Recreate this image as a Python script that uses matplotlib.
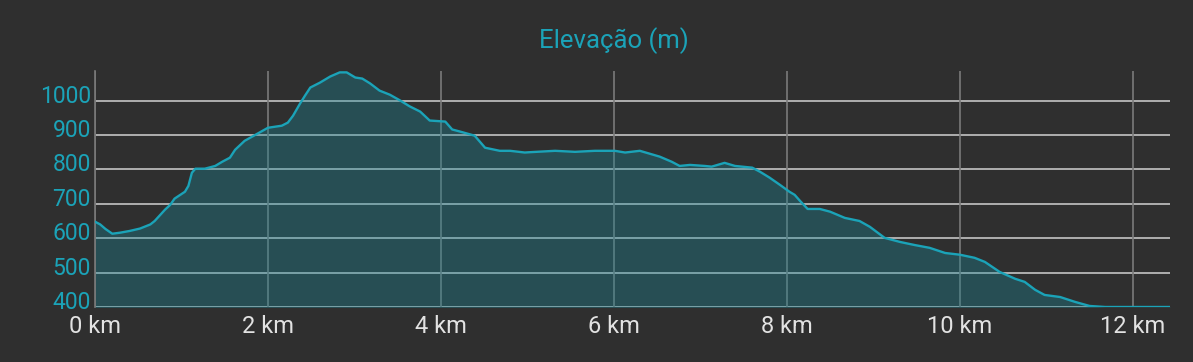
import matplotlib
matplotlib.use("Agg")
import matplotlib.pyplot as plt
from matplotlib.transforms import ScaledTranslation

# distance (km) and elevation (m) read from the profile
dist_km = [0.00, 0.06, 0.12, 0.20, 0.29, 0.40, 0.52, 0.64, 0.69, 0.81, 0.87,
           0.92, 1.04, 1.08, 1.12, 1.16, 1.27, 1.39, 1.47, 1.56, 1.62, 1.73,
           1.88, 2.00, 2.16, 2.23, 2.29, 2.37, 2.43, 2.49, 2.60, 2.72, 2.83,
           2.91, 3.01, 3.09, 3.18, 3.29, 3.41, 3.53, 3.64, 3.76, 3.87, 4.05,
           4.13, 4.22, 4.39, 4.51, 4.68, 4.80, 4.97, 5.03, 5.32, 5.55, 5.78,
           6.01, 6.13, 6.30, 6.53, 6.67, 6.76, 6.88, 7.05, 7.13, 7.28, 7.40,
           7.60, 7.69, 7.80, 7.92, 8.03, 8.09, 8.15, 8.24, 8.38, 8.50, 8.67,
           8.84, 8.96, 9.13, 9.31, 9.48, 9.65, 9.83, 10.00, 10.17, 10.29,
           10.46, 10.64, 10.75, 10.87, 10.98, 11.16, 11.33, 11.50, 11.68,
           12.43]
elev_m = [648, 640, 627, 613, 616, 621, 628, 640, 650, 683, 697, 715, 735,
          752, 790, 802, 802, 810, 822, 834, 857, 883, 904, 921, 927, 936,
          956, 991, 1015, 1038, 1052, 1070, 1082, 1082, 1067, 1064, 1050,
          1029, 1017, 1000, 983, 968, 942, 939, 916, 910, 898, 863, 854, 854,
          849, 850, 854, 851, 854, 854, 849, 854, 837, 822, 810, 813, 810,
          808, 819, 810, 805, 793, 776, 755, 735, 726, 709, 685, 685, 677,
          659, 650, 633, 601, 589, 580, 572, 557, 552, 543, 531, 502, 482,
          473, 450, 435, 429, 415, 403, 400, 400]

x_ticks = [0, 2, 4, 6, 8, 10, 12]
y_ticks = [400, 500, 600, 700, 800, 900, 1000]

bg = "#2f2f2f"
teal = "#1ba3b8"

plt.rcParams["font.family"] = ["Roboto", "DejaVu Sans"]

fig = plt.figure(figsize=(11.93, 3.62), dpi=100, facecolor=bg)
ax = fig.add_axes([95 / 1193, 55 / 362, 1075 / 1193, 236 / 362])
ax.set_facecolor(bg)

for y in y_ticks:
    ax.axhline(y, color="#c4c4c4", lw=1.2, zorder=1)
for x in x_ticks:
    ax.axvline(x, color="#7a7a7a", lw=1.2, zorder=1)

ax.fill_between(dist_km, elev_m, 390, color="#1a8a9a", alpha=0.35, lw=0, zorder=2)
ax.plot(dist_km, elev_m, color=teal, lw=1.7, zorder=3)

ax.set_xlim(0, 12.43)
ax.set_ylim(400, 1086)
ax.set_xticks(x_ticks)
ax.set_xticklabels([f"{v} km" for v in x_ticks])
ax.set_yticks(y_ticks)
ax.tick_params(axis="x", labelcolor="#e2e2e2", labelsize=17, length=0, pad=6)
ax.tick_params(axis="y", labelcolor=teal, labelsize=16.5, length=0, pad=3)

# y labels sit slightly above their gridlines
shift_up = ScaledTranslation(0, 0.07, fig.dpi_scale_trans)
for lab in ax.get_yticklabels():
    lab.set_transform(lab.get_transform() + shift_up)

for side in ["top", "right", "bottom"]:
    ax.spines[side].set_visible(False)
ax.spines["left"].set_color("#7a7a7a")
ax.spines["left"].set_linewidth(1.2)

fig.text(614 / 1193, 1 - 41 / 362, "Elevação (m)", color=teal, fontsize=18.5,
         ha="center", va="center")

fig.savefig("out.png", facecolor=bg)
